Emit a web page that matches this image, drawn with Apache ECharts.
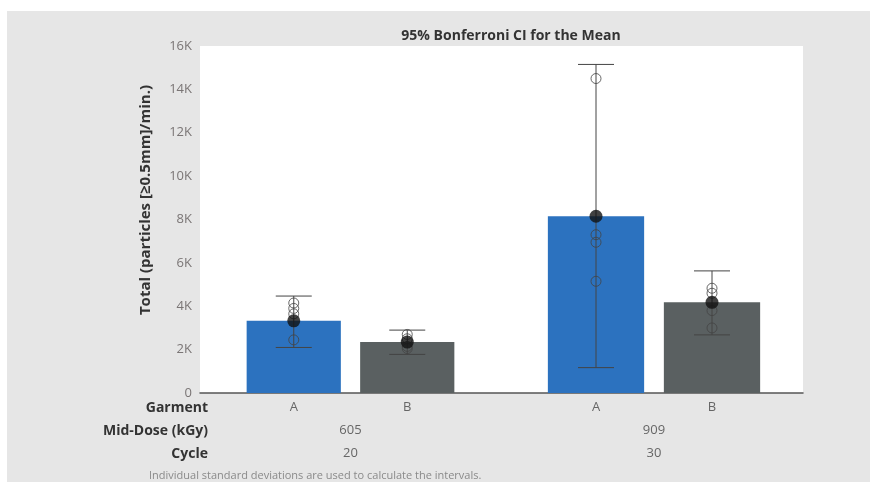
<!DOCTYPE html>
<html>
<head>
<meta charset="utf-8">
<script src="https://cdn.jsdelivr.net/npm/echarts@6/dist/echarts.min.js"></script>
<style>
  html, body { margin: 0; padding: 0; background: #fff; }
  #chart {
    width: 870px; height: 482px;
    background: linear-gradient(#e6e6e6, #e6e6e6) 7px 11px / 863px 471px no-repeat, #fff;
  }
</style>
</head>
<body>
<div id="chart"></div>
<script>
// Garment groups, one per cycle / mid-dose setting
const garments = ['A', 'B'];
const doses = ['605', '909'];
const cycles = ['20', '30'];

// Means and 95% Bonferroni interval bounds, [group][garment]
const means = [[3330, 2350], [8150, 4180]];
const ciLow = [[2100, 1780], [1170, 2680]];
const ciHigh = [[4470, 2900], [15150, 5630]];

// Individual observations, [group][garment]
const observations = [
  [[4150, 3900, 3650, 2450], [2700, 2500, 2150, 2050]],
  [[14500, 7300, 6950, 5150], [4830, 4600, 3800, 3000]]
];

const yTicks = ['0', '2K', '4K', '6K', '8K', '10K', '12K', '14K', '16K'];
const barColors = ['#2c72bf', '#5a6061'];

const FONT = '"Open Sans", "Noto Sans", sans-serif';
const chart = echarts.init(document.getElementById('chart'));

const groupGrids = [
  { left: 237, width: 227, top: 46, bottom: 89 },
  { left: 538, width: 232, top: 46, bottom: 89 }
];

const grids = [{ left: 200, right: 67, top: 46, bottom: 89, show: true, backgroundColor: '#ffffff', borderWidth: 0 }]
  .concat(groupGrids);

const yAxes = [{
  gridIndex: 0, type: 'value', min: 0, max: 16000, interval: 2000,
  axisLine: { show: false }, axisTick: { show: false }, splitLine: { show: false },
  axisLabel: {
    fontFamily: FONT, fontSize: 13, color: '#7a7575', margin: 8,
    formatter: (v) => yTicks[Math.round(v / 2000)]
  }
}];
groupGrids.forEach((g, i) => {
  yAxes.push({ gridIndex: i + 1, type: 'value', min: 0, max: 16000, interval: 2000, show: false });
});

const axisLabelBase = { fontFamily: FONT, fontSize: 13, color: '#666', margin: 8 };
const xAxes = [{
  gridIndex: 0, type: 'value', min: 0, max: 1, show: true,
  axisLine: { show: true, onZero: false, lineStyle: { color: '#555', width: 1.5 } },
  axisTick: { show: false }, axisLabel: { show: false }, splitLine: { show: false }
}];
groupGrids.forEach((g, i) => {
  const common = {
    gridIndex: i + 1, type: 'category', position: 'bottom',
    axisLine: { show: false }, axisTick: { show: false }, splitLine: { show: false }
  };
  xAxes.push(Object.assign({}, common, { data: garments, axisLabel: axisLabelBase }));
  xAxes.push(Object.assign({}, common, { data: [doses[i]], offset: 23, axisLabel: axisLabelBase }));
  xAxes.push(Object.assign({}, common, { data: [cycles[i]], offset: 46, axisLabel: axisLabelBase }));
});

// Interval whisker: vertical line with caps at both bounds
function errorBar(params, api) {
  const x = api.value(0);
  const lo = api.coord([x, api.value(1)]);
  const hi = api.coord([x, api.value(2)]);
  const half = 18;
  const style = { stroke: '#444', lineWidth: 1 };
  return {
    type: 'group',
    children: [
      { type: 'line', shape: { x1: lo[0], y1: lo[1], x2: hi[0], y2: hi[1] }, style },
      { type: 'line', shape: { x1: lo[0] - half, y1: lo[1], x2: lo[0] + half, y2: lo[1] }, style },
      { type: 'line', shape: { x1: hi[0] - half, y1: hi[1], x2: hi[0] + half, y2: hi[1] }, style }
    ]
  };
}

const series = [];
groupGrids.forEach((g, gi) => {
  const xIdx = 1 + gi * 3;
  const yIdx = gi + 1;
  series.push({
    type: 'bar', xAxisIndex: xIdx, yAxisIndex: yIdx, barWidth: '83%', z: 2,
    data: means[gi].map((v, i) => ({ value: v, itemStyle: { color: barColors[i] } }))
  });
  series.push({
    type: 'custom', xAxisIndex: xIdx, yAxisIndex: yIdx, z: 3,
    renderItem: errorBar, encode: { x: 0, y: [1, 2] },
    data: garments.map((_, i) => [i, ciLow[gi][i], ciHigh[gi][i]])
  });
  const pts = [];
  observations[gi].forEach((arr, i) => arr.forEach(v => pts.push([i, v])));
  series.push({
    type: 'scatter', xAxisIndex: xIdx, yAxisIndex: yIdx, z: 4,
    symbol: 'circle', symbolSize: 10,
    itemStyle: { color: 'rgba(255,255,255,0)', borderColor: '#444', borderWidth: 1 },
    data: pts
  });
  series.push({
    type: 'scatter', xAxisIndex: xIdx, yAxisIndex: yIdx, z: 5,
    symbol: 'circle', symbolSize: 13,
    itemStyle: { color: '#111' },
    data: means[gi].map((v, i) => [i, v])
  });
});

const rowHeads = ['Garment', 'Mid-Dose (kGy)', 'Cycle'];
const graphics = rowHeads.map((t, i) => ({
  type: 'text', x: 208, y: 408 + i * 23,
  style: {
    text: t, align: 'right', verticalAlign: 'middle',
    font: 'bold 14px ' + FONT, fill: '#333'
  }
}));
graphics.push({
  type: 'text', x: 146, y: 200, rotation: Math.PI / 2,
  style: {
    text: 'Total (particles [≥0.5mm]/min.)', align: 'center', verticalAlign: 'middle',
    font: 'bold 15px ' + FONT, fill: '#333'
  }
});
graphics.push({
  type: 'text', x: 149, y: 476,
  style: {
    text: 'Individual standard deviations are used to calculate the intervals.',
    align: 'left', verticalAlign: 'middle', font: '11px ' + FONT, fill: '#8a8a8a'
  }
});

chart.setOption({
  animation: false,
  backgroundColor: 'transparent',
  title: {
    text: '95% Bonferroni CI for the Mean', left: 506, top: 24, textAlign: 'center',
    textStyle: { fontFamily: FONT, fontWeight: 'bold', fontSize: 14, color: '#333' }
  },
  grid: grids,
  xAxis: xAxes,
  yAxis: yAxes,
  series: series,
  graphic: graphics
});
</script>
</body>
</html>
